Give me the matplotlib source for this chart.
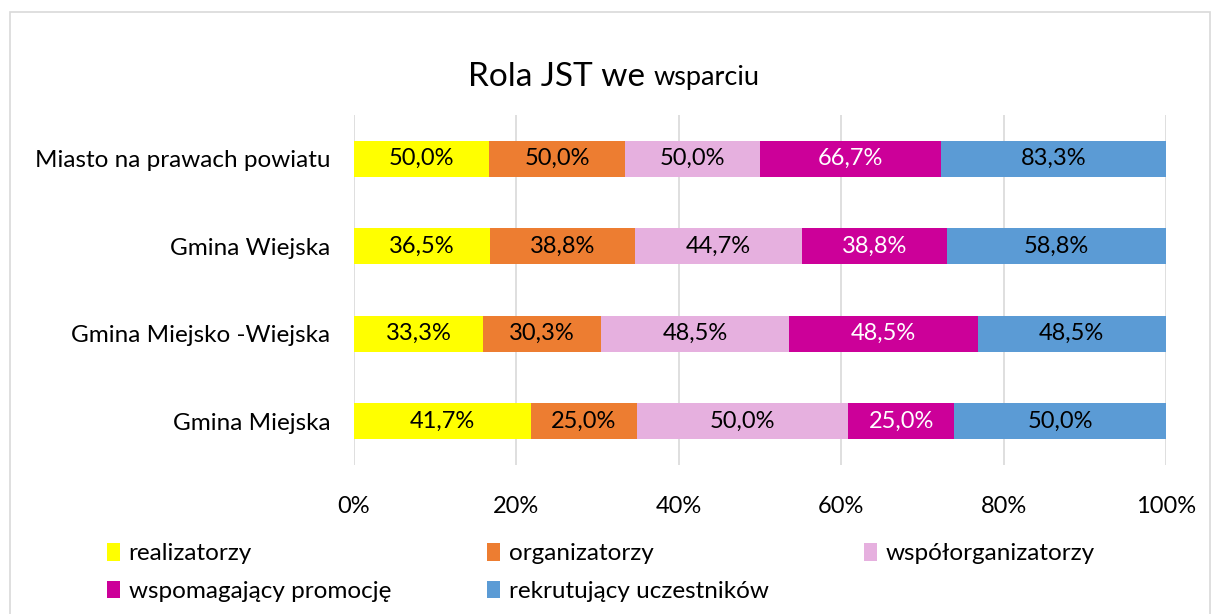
import matplotlib
matplotlib.use("Agg")
import matplotlib.pyplot as plt
from matplotlib.patches import Rectangle
import numpy as np

plt.rcParams['font.family'] = ['Lato', 'DejaVu Sans']

categories = ["Gmina Miejska", "Gmina Miejsko -Wiejska", "Gmina Wiejska", "Miasto na prawach powiatu"]
series_names = ["realizatorzy", "organizatorzy", "współorganizatorzy", "wspomagający promocję", "rekrutujący uczestników"]
realizatorzy = [41.7, 33.3, 36.5, 50.0]
organizatorzy = [25.0, 30.3, 38.8, 50.0]
wspolorganizatorzy = [50.0, 48.5, 44.7, 50.0]
wspomagajacy = [25.0, 48.5, 38.8, 66.7]
rekrutujacy = [50.0, 48.5, 58.8, 83.3]
xticks = [0, 20, 40, 60, 80, 100]
xticklabels = ["0%", "20%", "40%", "60%", "80%", "100%"]

colors = ["#FFFF00", "#ED7D31", "#E6B0DF", "#CC0099", "#5B9BD5"]
text_colors = ["black", "black", "black", "white", "black"]

series = [realizatorzy, organizatorzy, wspolorganizatorzy, wspomagajacy, rekrutujacy]
data = np.array(series, dtype=float)
totals = data.sum(axis=0)
shares = data / totals * 100

fig = plt.figure(figsize=(12.15, 6.14), dpi=100)
fig.patches.append(Rectangle((10/1215, -0.01), 1200/1215, 1.01 - 12/614, transform=fig.transFigure,
                             fill=False, edgecolor="#D9D9D9", linewidth=1.2))
ax = fig.add_axes([354/1215, 1 - 465/614, (1166 - 354)/1215, (465 - 115)/614])

y = np.arange(len(categories))
left = np.zeros(len(categories))
handles = []
for i, name in enumerate(series_names):
    bars = ax.barh(y, shares[i], left=left, height=0.41, color=colors[i], label=name, zorder=3)
    handles.append(bars)
    for j, b in enumerate(bars):
        ax.text(left[j] + shares[i][j] / 2, y[j], f"{data[i][j]:.1f}%".replace(".", ","),
                ha="center", va="center", fontsize=17, color=text_colors[i], zorder=4)
    left += shares[i]

ax.set_xlim(0, 100)
ax.set_ylim(-0.5, 3.5)
ax.set_xticks(xticks)
ax.set_xticklabels(xticklabels, fontsize=17)
ax.set_yticks(y)
ax.set_yticklabels(categories, fontsize=17.5)
ax.grid(axis="x", color="#D9D9D9", linewidth=1.2, zorder=0)
for s in ax.spines.values():
    s.set_visible(False)
ax.tick_params(axis="both", length=0)
ax.tick_params(axis="x", pad=22)
ax.tick_params(axis="y", pad=17)

fig.text(654/1215, 1 - 77/614, "Rola JST we ", fontsize=24, ha="right", va="center")
fig.text(654/1215, 1 - 77/614, "wsparciu", fontsize=19.5, ha="left", va="center")

col_x = [105, 485, 862]
col_items = [[0, 3], [1, 4], [2]]
for cx, items in zip(col_x, col_items):
    fig.legend([handles[k] for k in items], [series_names[k] for k in items],
               loc="upper left", bbox_to_anchor=((cx - 8)/1215, 1 - 533/614), ncol=1,
               frameon=False, fontsize=17.5, handlelength=0.55, handleheight=0.75,
               handletextpad=0.35, labelspacing=0.68, borderaxespad=0)

fig.savefig("out.png", dpi=100)
